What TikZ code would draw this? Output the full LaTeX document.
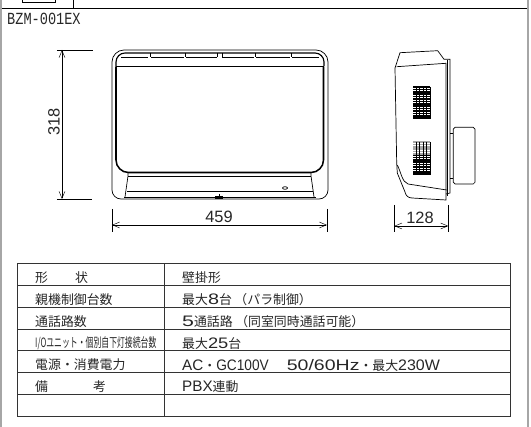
\documentclass[tikz,border=0pt]{standalone}
\usepackage{fontspec}
\setmainfont{Liberation Sans}
\newfontfamily\jpfont{Noto Sans CJK JP}
\newfontfamily\modelfont{Liberation Mono}
\usetikzlibrary{arrows.meta}
\newcommand{\wideword}[2]{\scalebox{#1}[1]{\rmfamily\fontsize{13}{13}\selectfont #2}}
\tikzset{
  dimline/.style={black,line width=0.4pt,{Straight Barb[length=6pt,width=5pt]}-{Straight Barb[length=6pt,width=5pt]}},
  extline/.style={black,line width=0.5pt},
  bodyline/.style={black,line width=0.6pt},
  heavyline/.style={black,line width=1.3pt},
  gridline/.style={black!80,line width=0.7pt},
  dimtext/.style={text=black!85,font=\fontsize{14}{14}\selectfont},
  celltext/.style={anchor=west,text=black!85,font=\jpfont\fontsize{11}{11}\selectfont}
}
\begin{document}
\begin{tikzpicture}[scale=0.03]
\tikzstyle{every node}+=[inner sep=0pt]
\useasboundingbox (0,0) rectangle (531,-427);
\draw [black!35,line width=1pt] (1,0) -- (1,-427);
\draw [black!35,line width=1pt] (528,0) -- (528,-427);
\draw [black,line width=0.8pt] (2,-8) -- (527,-8);
\draw [black,line width=0.6pt] (22,0) -- (22,-2.5) -- (55,-2.5) -- (55,0);
\draw [black,line width=0.6pt] (73,0) -- (73,-8);
\node (model) [anchor=west,text=black!85,font=\modelfont\fontsize{11.6}{12}\selectfont] at (7,-19) {\scalebox{1}[1.25]{BZM-001EX}};
\draw [bodyline] (112,-190) -- (112,-62) arc (180:90:12) -- (316,-50) arc (90:0:12) -- (328,-190) arc (0:-90:9) -- (121,-199) arc (270:180:9);
\draw [heavyline] (116,-66.5) -- (116,-160) arc (180:270:12.5) -- (311,-172.5) arc (270:360:12.5) -- (323.5,-66.5);
\draw [black,line width=1pt] (116,-66) -- (116,-62) arc (180:90:9) -- (315,-53) arc (90:0:9) -- (324,-66);
\draw [heavyline] (116,-66.5) -- (323.5,-66.5);
\draw [bodyline] (121,-57) -- (148,-57);
\draw [bodyline] (151,-57) -- (184,-57);
\draw [bodyline] (186,-57) -- (217,-57);
\draw [bodyline] (222,-57) -- (254,-57);
\draw [bodyline] (256,-57) -- (290,-57);
\draw [bodyline] (292,-57) -- (319,-57);
\foreach \px in {150,185,217.5,222,255,291} {
  \draw [bodyline] (\px,-53) -- (\px,-57);
}
\draw [bodyline] (128,-176) -- (311,-176);
\draw [bodyline] (128,-173) -- (128,-176) -- (125,-197);
\draw [bodyline] (311,-173) -- (311,-176) -- (314,-197);
\draw [heavyline] (127,-191.5) -- (313,-191.5);
\draw [bodyline] (124,-197) -- (316,-197);
\draw [bodyline] (285,-188) ellipse (2.5 and 1.3);
\draw [bodyline] (219,-194) -- (219,-197);
\fill [black] (215,-196.5) rectangle (223,-199.5);
\coordinate (hightop) at (62,-50);
\coordinate (highbot) at (62,-199);
\coordinate (hightopa) at (57,-50);
\coordinate (hightopb) at (93,-50);
\coordinate (highbota) at (57,-199);
\coordinate (highbotb) at (92,-199);
\draw [extline] (hightopa) -- (hightopb);
\draw [extline] (highbota) -- (highbotb);
\draw [dimline] (hightop) -- (highbot);
\node (hightext) [dimtext,rotate=90] at (54,-122) {318};
\coordinate (widea) at (112,-209);
\coordinate (wideb) at (112,-232);
\coordinate (widec) at (327,-209);
\coordinate (wided) at (327,-232);
\coordinate (widel) at (112,-225);
\coordinate (wider) at (327,-225);
\draw [extline] (widea) -- (wideb);
\draw [extline] (widec) -- (wided);
\draw [dimline] (widel) -- (wider);
\node (widetext) [dimtext] at (219,-217) {459};
\draw [bodyline] (395,-68) -- (400,-52.7) -- (437.7,-50.7) -- (444,-59.3) -- (450,-59.3) -- (450,-193) -- (446,-194);
\draw [bodyline] (395,-68) -- (396.7,-163) -- (397.3,-173) -- (405,-192) .. controls (406,-196) and (408,-197.7) .. (412,-198) -- (446,-200) -- (446,-63.3) -- (396.7,-66.7);
\draw [bodyline] (447.5,-60) -- (447.5,-196);
\draw [bodyline] (397.3,-165) .. controls (401,-172) and (402,-182) .. (408,-184) -- (446.7,-190);
\draw [bodyline] (450,-133) -- (453.3,-133);
\draw [bodyline] (450,-178) -- (453.3,-178);
\draw [bodyline,rounded corners=1.5pt] (453.3,-127.3) rectangle (475,-184);
\foreach \py in {87,89.4,...,119} {
  \draw [black,line width=1.2pt] (413,-\py) -- (430,-\py);
}
\foreach \py in {155,157.4,...,175} {
  \draw [black,line width=1.2pt] (413,-\py) -- (430,-\py);
}
\foreach \py in {142,144.4,...,154} {
  \draw [black!35,line width=1.2pt] (413,-\py) -- (430,-\py);
}
\foreach \px in {416,419.5,...,430} {
  \draw [black,line width=0.7pt] (\px,-87) -- (\px,-119);
  \draw [black,line width=0.7pt] (\px,-142) -- (\px,-175);
}
\coordinate (deepa) at (394.3,-205);
\coordinate (deepb) at (394.3,-232);
\coordinate (deepc) at (448.3,-205);
\coordinate (deepd) at (448.3,-232);
\coordinate (deepl) at (394.3,-226);
\coordinate (deepr) at (448.3,-226);
\draw [extline] (deepa) -- (deepb);
\draw [extline] (deepc) -- (deepd);
\draw [dimline] (deepl) -- (deepr);
\node (deeptext) [dimtext] at (420,-217.7) {128};
\draw [gridline] (17,-263.3) rectangle (510,-416);
\draw [gridline] (164.7,-263.3) -- (164.7,-416);
\foreach \py in {285,307.3,329,350.7,372.3,394.3} {
  \draw [gridline] (17,-\py) -- (510,-\py);
}
\node (shapekey) [celltext] at (35,-277.7) {形\hspace{2.1em}状};
\node (shapeval) [celltext] at (182,-277.7) {壁掛形};
\node (unitkey) [celltext] at (35,-300) {親機制御台数};
\node (unitval) [celltext] at (182,-300) {最大\wideword{1.3}{8}台\hspace{0.2em}（パラ制御）};
\node (linekey) [celltext] at (35,-321.5) {通話路数};
\node (lineval) [celltext] at (182,-321.5) {\wideword{1.4}{5}通話路\hspace{0.2em}（同室同時通話可能）};
\node (iokey) [celltext] at (35,-343.5) {\scalebox{0.61}[1]{I/Oユニット・個別自下灯接続台数}};
\node (ioval) [celltext] at (182,-343.5) {最大\wideword{1.2}{25}台};
\node (powerkey) [celltext] at (35,-365) {電源・消費電力};
\node (powerval) [celltext] at (182,-365) {\wideword{1}{AC}・\wideword{0.9}{GC100V}\hspace{1.4em}\wideword{1.28}{50/60Hz}・最大\wideword{1.05}{230W}};
\node (notekey) [celltext] at (35,-387) {備\hspace{3.5em}考};
\node (noteval) [celltext] at (182,-387) {\wideword{1}{PBX}連動};
\end{tikzpicture}
\end{document}
